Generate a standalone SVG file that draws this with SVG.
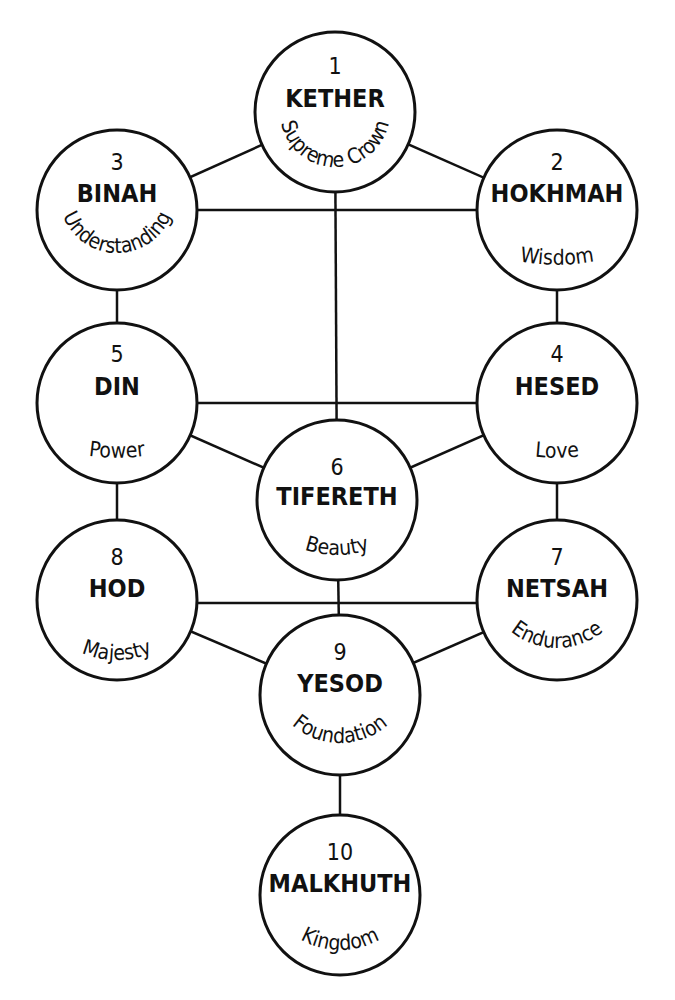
<svg xmlns="http://www.w3.org/2000/svg" width="675" height="1000" viewBox="0 0 675 1000">
<style>
.c{fill:#fff;stroke:#111;stroke-width:3}
.e{stroke:#111;stroke-width:2.5;fill:none}
text{font-family:"DejaVu Sans Condensed","Liberation Sans Narrow","DejaVu Sans",sans-serif;font-weight:bold;fill:#111;text-anchor:middle}
.n{font-size:23px;font-weight:normal}
.t{font-size:25px}
.s{font-size:21px;font-weight:normal}
</style>
<defs>
<path id="pk" d="M280,112 A55,55 0 0 0 390,112"/>
<path id="pb" d="M59,195 A58,58 0 0 0 175,195"/>
<path id="ph" d="M457,238 A200,200 0 0 0 657,238"/>
<path id="pd" d="M17,431 A200,200 0 0 0 217,431"/>
<path id="pe" d="M457,431 A200,200 0 0 0 657,431"/>
<path id="pt" d="M237,455 A100,100 0 0 0 437,455"/>
<path id="po" d="M27,570 A90,90 0 0 0 207,570"/>
<path id="pn" d="M484,575 A73,73 0 0 0 630,575"/>
<path id="py" d="M267,670 A73,73 0 0 0 413,670"/>
<path id="pm" d="M260,870 A80,80 0 0 0 420,870"/>
</defs>
<g id="connectors" class="e">
<line x1="335" y1="112" x2="117" y2="210"/>
<line x1="335" y1="112" x2="557" y2="210"/>
<line x1="117" y1="210" x2="557" y2="210"/>
<line x1="335" y1="112" x2="337" y2="500"/>
<line x1="117" y1="210" x2="117" y2="403"/>
<line x1="557" y1="210" x2="557" y2="403"/>
<line x1="117" y1="403" x2="557" y2="403"/>
<line x1="117" y1="403" x2="337" y2="500"/>
<line x1="557" y1="403" x2="337" y2="500"/>
<line x1="117" y1="403" x2="117" y2="600"/>
<line x1="557" y1="403" x2="557" y2="600"/>
<line x1="337" y1="500" x2="340" y2="695"/>
<line x1="117" y1="603" x2="557" y2="603"/>
<line x1="117" y1="600" x2="340" y2="695"/>
<line x1="557" y1="600" x2="340" y2="695"/>
<line x1="340" y1="695" x2="340" y2="895"/>
</g>
<g id="kether"><circle class="c" cx="335" cy="112" r="80"/><text class="n" x="335" y="74">1</text><text class="t" x="335" y="107">KETHER</text><text class="s"><textPath href="#pk" startOffset="50%">Supreme Crown</textPath></text></g>
<g id="binah"><circle class="c" cx="117" cy="210" r="80"/><text class="n" x="117" y="170">3</text><text class="t" x="117" y="202">BINAH</text><text class="s"><textPath href="#pb" startOffset="50%">Understanding</textPath></text></g>
<g id="hokhmah"><circle class="c" cx="557" cy="210" r="80"/><text class="n" x="557" y="170">2</text><text class="t" x="557" y="202">HOKHMAH</text><text class="s"><textPath href="#ph" startOffset="50%">Wisdom</textPath></text></g>
<g id="din"><circle class="c" cx="117" cy="403" r="80"/><text class="n" x="117" y="362">5</text><text class="t" x="117" y="395">DIN</text><text class="s"><textPath href="#pd" startOffset="50%">Power</textPath></text></g>
<g id="hesed"><circle class="c" cx="557" cy="403" r="80"/><text class="n" x="557" y="362">4</text><text class="t" x="557" y="395">HESED</text><text class="s"><textPath href="#pe" startOffset="50%">Love</textPath></text></g>
<g id="tifereth"><circle class="c" cx="337" cy="500" r="80"/><text class="n" x="337" y="475">6</text><text class="t" x="337" y="505">TIFERETH</text><text class="s"><textPath href="#pt" startOffset="50%">Beauty</textPath></text></g>
<g id="hod"><circle class="c" cx="117" cy="600" r="80"/><text class="n" x="117" y="565">8</text><text class="t" x="117" y="597">HOD</text><text class="s"><textPath href="#po" startOffset="50%">Majesty</textPath></text></g>
<g id="netsah"><circle class="c" cx="557" cy="600" r="80"/><text class="n" x="557" y="565">7</text><text class="t" x="557" y="597">NETSAH</text><text class="s"><textPath href="#pn" startOffset="50%">Endurance</textPath></text></g>
<g id="yesod"><circle class="c" cx="340" cy="695" r="80"/><text class="n" x="340" y="660">9</text><text class="t" x="340" y="692">YESOD</text><text class="s"><textPath href="#py" startOffset="50%">Foundation</textPath></text></g>
<g id="malkhuth"><circle class="c" cx="340" cy="895" r="80"/><text class="n" x="340" y="860">10</text><text class="t" x="340" y="892">MALKHUTH</text><text class="s"><textPath href="#pm" startOffset="50%">Kingdom</textPath></text></g>
</svg>
